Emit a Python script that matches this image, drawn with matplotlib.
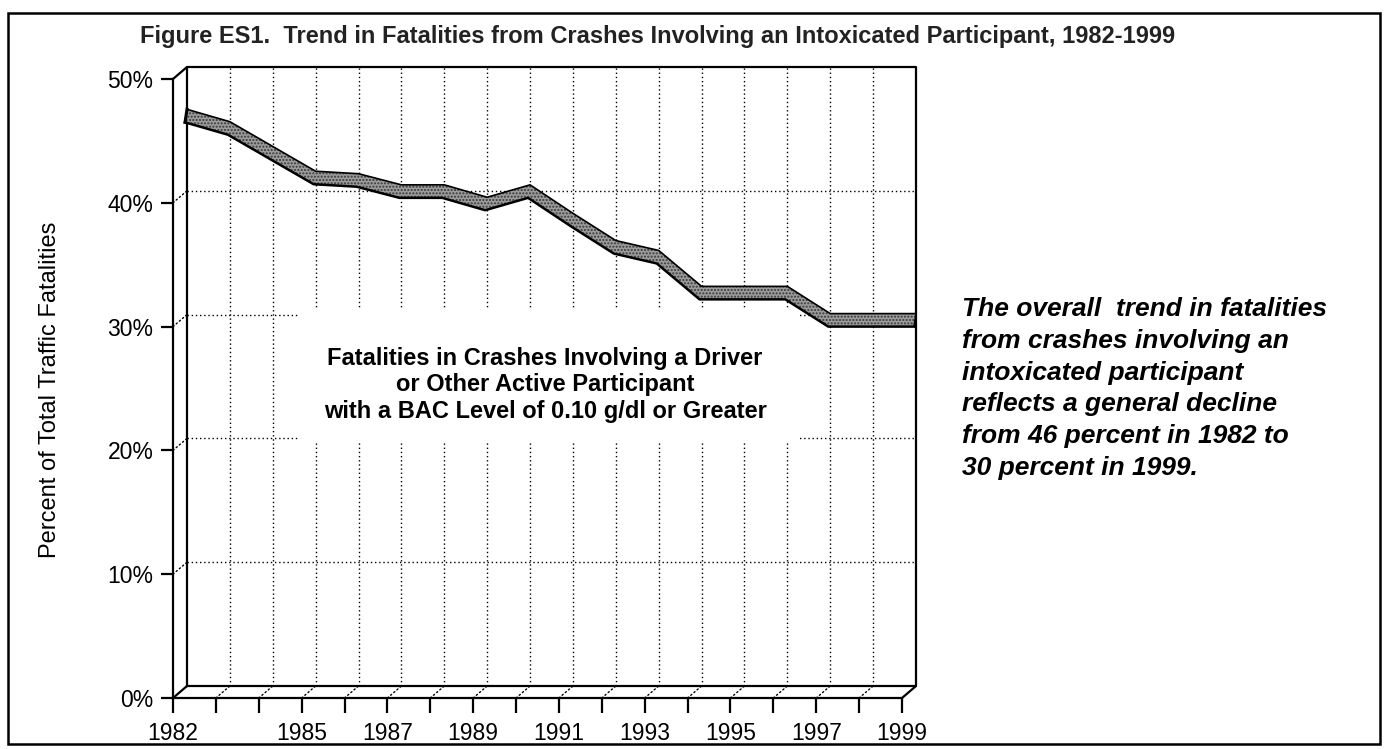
import numpy as np
import matplotlib.pyplot as plt
from matplotlib import transforms
from matplotlib.patches import ConnectionPatch, Rectangle

years = list(range(1982, 2000))
pct = [46.5, 45.5, 43.5, 41.5, 41.3, 40.4, 40.4, 39.4, 40.4, 38.1,
       35.9, 35.1, 32.2, 32.2, 32.2, 30.0, 30.0, 30.0]
label_years = [1982, 1985, 1987, 1989, 1991, 1993, 1995, 1997, 1999]
y_ticks = [0, 10, 20, 30, 40, 50]

title = ("Figure ES1.  Trend in Fatalities from Crashes Involving an "
         "Intoxicated Participant, 1982-1999")
series_label = ("Fatalities in Crashes Involving a Driver\n"
                "or Other Active Participant\n"
                "with a BAC Level of 0.10 g/dl or Greater")
note = ["The overall  trend in fatalities",
        "from crashes involving an",
        "intoxicated participant",
        "reflects a general decline",
        "from 46 percent in 1982 to",
        "30 percent in 1999."]

plt.rcParams['font.family'] = ['Liberation Sans', 'DejaVu Sans']
plt.rcParams['hatch.color'] = '#383838'
plt.rcParams['hatch.linewidth'] = 1.0

W, H = 1385, 749
fig = plt.figure(figsize=(W / 100, H / 100), dpi=100)

# front face of the 3-d box (pixel layout of the original)
ax = fig.add_axes([173 / W, 1 - 698 / H, 729 / W, 619 / H])
ax.set_xlim(1982, 1999)
ax.set_ylim(0, 50)
ax.patch.set_visible(False)
for s in ax.spines.values():
    s.set_visible(False)

DX, DY = 14, 12   # depth of the box in pixels
back = transforms.offset_copy(ax.transData, fig=fig, x=DX, y=DY, units='dots')

def link(x, y, **kw):
    # front point -> back point
    cp = ConnectionPatch(xyA=(x, y), coordsA=ax.transData,
                         xyB=(x, y), coordsB=back, **kw)
    fig.add_artist(cp)

dot = dict(color='k', lw=1.0, linestyle=(0, (1, 2)))
solid = dict(color='k', lw=1.6)

# dotted grid: back wall, floor and left wall
for v in y_ticks[1:-1]:
    ax.plot([1982, 1999], [v, v], transform=back, clip_on=False, zorder=1, **dot)
    link(1982, v, zorder=1, **dot)
for yr in years[1:-1]:
    ax.plot([yr, yr], [0, 50], transform=back, clip_on=False, zorder=1, **dot)
    link(yr, 0, zorder=1, **dot)

# white text box that hides the grid behind the series label
ax.add_patch(Rectangle(((300 - 173) / 729, (698 - 443) / 619), 500 / 729, 133 / 619,
                       transform=ax.transAxes, facecolor='white',
                       edgecolor='none', zorder=2))

# box edges
ax.plot([1982, 1982, 1999, 1999, 1982], [0, 50, 50, 0, 0], transform=back,
        clip_on=False, zorder=3, **solid)
ax.plot([1982, 1982], [0, 50], clip_on=False, zorder=3, **solid)
ax.plot([1982, 1999], [0, 0], clip_on=False, zorder=3, **solid)
link(1982, 50, zorder=3, **solid)
link(1982, 0, zorder=3, **solid)
link(1999, 0, zorder=3, **solid)

# ribbon: lower (front) edge and upper (back) edge
ppx = 729 / 17
ppy = 619 / 50
x = np.array(years, dtype=float)
y = np.array(pct)
xb, yb = x + 12 / ppx, y
xt, yt = x + DX / ppx, y + (DY + 1) / ppy
ax.fill(np.r_[xt, xb[::-1]], np.r_[yt, yb[::-1]], facecolor='#9c9c9c',
        edgecolor='#383838', lw=0, hatch='.....', clip_on=False, zorder=4)
ax.plot(xt, yt, color='k', lw=1.2, clip_on=False, zorder=5)
ax.plot(xb, yb, color='k', lw=1.8, clip_on=False, zorder=5)
ax.plot([xt[0], xb[0]], [yt[0], yb[0]], color='k', lw=2.2, clip_on=False, zorder=5)
ax.plot([xt[-1], xb[-1]], [yt[-1], yb[-1]], color='k', lw=1.2, clip_on=False, zorder=5)

# axes ticks
ax.set_yticks(y_ticks)
ax.set_yticklabels(['%d%%' % v for v in y_ticks])
ax.set_xticks(years)
ax.set_xticklabels([str(yr) if yr in label_years else '' for yr in years])
ax.tick_params(axis='y', direction='out', length=9, width=1.6, pad=5, labelsize=16.5)
ax.tick_params(axis='x', direction='out', length=11, width=1.6, pad=6, labelsize=16.5)

fig.text(50 / W, 1 - 390 / H, "Percent of Total Traffic Fatalities",
         rotation=90, ha='center', va='center', fontsize=17)

fig.text(140 / W, 1 - 37 / H, title, ha='left', va='center',
         fontsize=17, fontweight='bold', color='#222222')

fig.text(545 / W, 1 - 385 / H, series_label, ha='center', va='center',
         multialignment='center', fontsize=17, fontweight='bold',
         linespacing=1.2, zorder=6)

for i, line in enumerate(note):
    fig.text(962 / W, 1 - (309 + 31.8 * i) / H, line, ha='left', va='center',
             fontsize=19, fontweight='bold', style='italic')

fig.patches.append(Rectangle((8 / W, 1 - 744 / H), 1372 / W, 731 / H,
                             transform=fig.transFigure, fill=False,
                             edgecolor='k', lw=1.8))

fig.savefig('out.png', dpi=100)
